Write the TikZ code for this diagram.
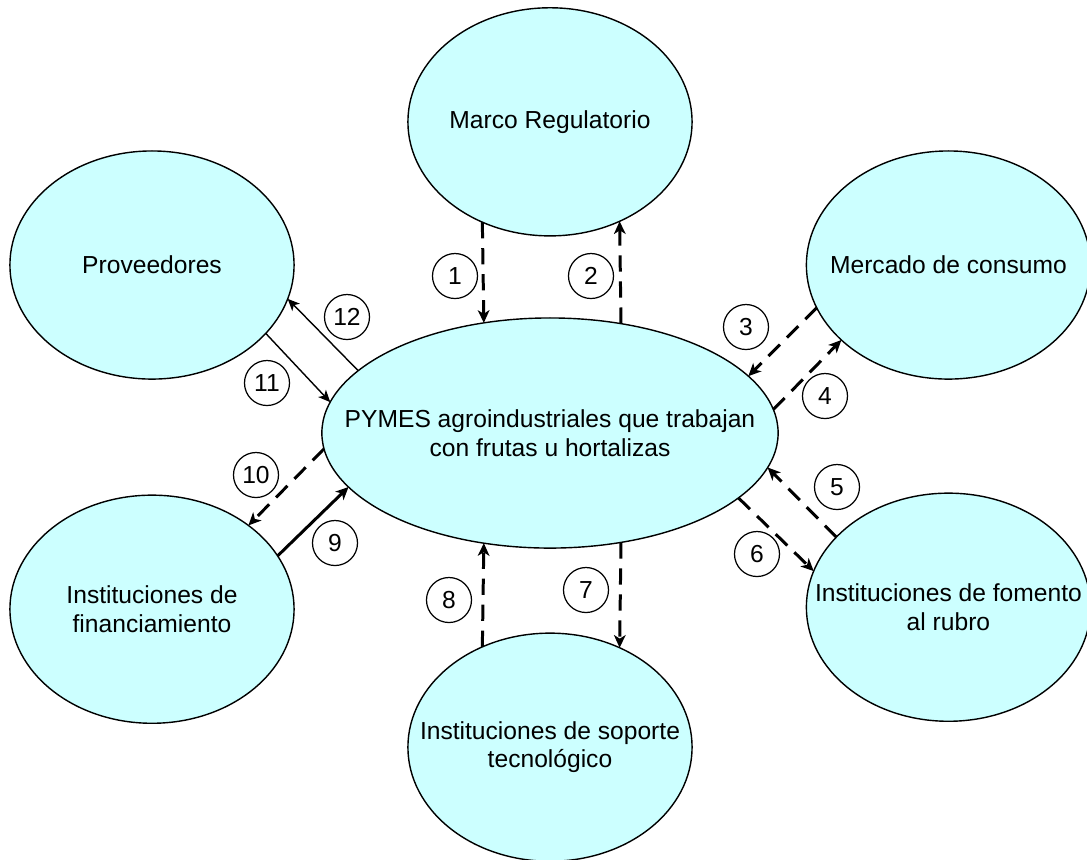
\documentclass[tikz,border=0pt]{standalone}
\usepackage{fontspec}
\setmainfont{Liberation Sans}
\usetikzlibrary{shapes.geometric,arrows.meta}
\definecolor{celeste}{HTML}{CCFFFF}
\tikzstyle{actor} = [ellipse, draw, fill=celeste, line width=0.4pt, minimum width=2.84cm, minimum height=2.28cm, inner sep=0pt, outer sep=0pt]
\tikzstyle{num} = [circle, draw, line width=0.35pt, minimum size=0.45cm, inner sep=0pt]
\tikzstyle{flujo} = [line width=0.85pt, dash pattern=on 4.6pt off 2.8pt, -{Stealth[length=3.6pt,width=3.3pt,inset=1pt]}]
\tikzstyle{solido} = [line width=0.85pt, -{Stealth[length=3.6pt,width=3.3pt,inset=1pt]}]
\tikzstyle{fino} = [line width=0.4pt, -{Stealth[length=3.4pt,width=3pt,inset=0.9pt]}]

\begin{document}
\begin{tikzpicture}[x=0.01cm, y=-0.01cm, font=\fontsize{7}{8.2}\selectfont]
				\useasboundingbox (0,0) rectangle (1087,859);
				\node[actor, minimum width=4.56cm, minimum height=2.3cm, label={[align=center]center:PYMES agroindustriales que trabajan\\con frutas u hortalizas}] (pymes) at (550,433) {};
				\node[actor, above of=pymes, node distance=3.11cm, label=center:Marco Regulatorio] (marco) {};
				\node[actor, below of=pymes, node distance=3.14cm, label={[align=center]center:Instituciones de soporte\\tecnológico}] (soporte) {};
				\node[actor, label=center:Proveedores] (prov) at (152,265) {};
				\node[actor, right of=prov, node distance=7.96cm, label=center:Mercado de consumo] (mercado) {};
				\node[actor, below of=prov, node distance=3.44cm, label={[align=center]center:Instituciones de\\financiamiento}] (financ) {};
				\node[actor, below of=mercado, node distance=3.42cm, label={[align=center]center:Instituciones de fomento\\al rubro}] (fomento) {};

				\node[num] (n1) at (455,276) {1};
				\node[num] (n2) at (591,276) {2};
				\node[num] (n3) at (746,327) {3};
				\node[num] (n4) at (825,396) {4};
				\node[num] (n5) at (837,487) {5};
				\node[num] (n6) at (757,554) {6};
				\node[num] (n7) at (586,590) {7};
				\node[num] (n8) at (449,600) {8};
				\node[num] (n9) at (335,543) {9};
				\node[num] (n10) at (256,475) {10};
				\node[num] (n11) at (267,383) {11};
				\node[num] (n12) at (347,317) {12};

				\draw[flujo] (marco.-124) -- (pymes.121);
				\draw[flujo] (pymes.57) -- (marco.-55);
				\draw[flujo] (mercado.-162) -- (pymes.16);
				\draw[flujo] (pymes.6) -- (mercado.-145);
				\draw[flujo] (fomento.148) -- (pymes.-9);
				\draw[flujo] (pymes.-19) -- (fomento.165);
				\draw[flujo] (pymes.-57) -- (soporte.55);
				\draw[flujo] (soporte.124) -- (pymes.-121);
				\draw[solido] (financ.23) -- (pymes.-165);
				\draw[flujo] (pymes.-176) -- (financ.41);
				\draw[fino] (prov.-31) -- (pymes.172);
				\draw[fino] (pymes.162) -- (prov.-14);
			\end{tikzpicture}
\end{document}
